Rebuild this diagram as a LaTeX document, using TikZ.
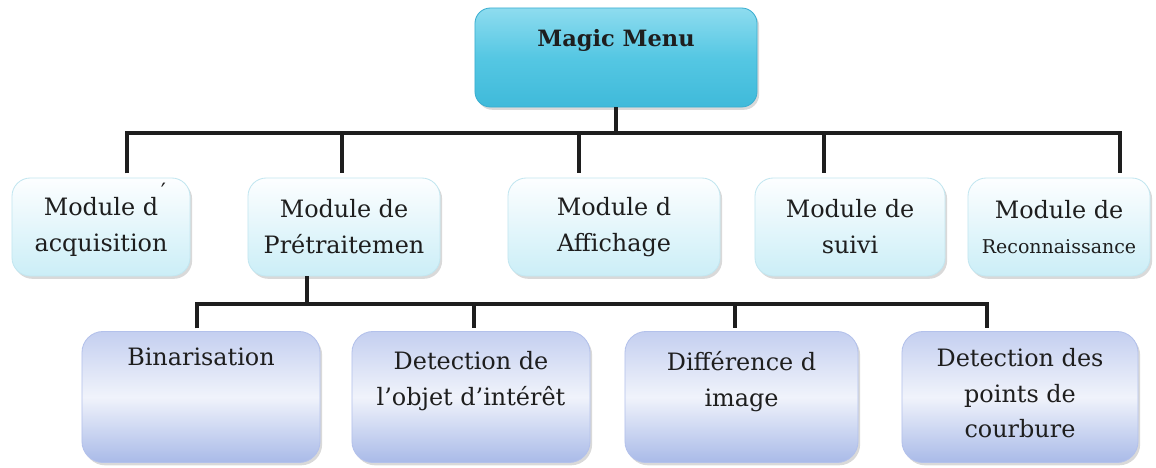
\documentclass[tikz,border=0pt]{standalone}
\usepackage{fontspec}
\setmainfont{DejaVu Serif}
\usetikzlibrary{shadows}
\definecolor{ink}{HTML}{1E1E1E}
\definecolor{cyantop}{HTML}{8EDCEF}
\definecolor{cyanmid}{HTML}{55C7E3}
\definecolor{cyanbot}{HTML}{3FBADA}
\definecolor{cyanedge}{HTML}{3AAED0}
\definecolor{paletop}{HTML}{FDFEFF}
\definecolor{palebot}{HTML}{CBEEF7}
\definecolor{paleedge}{HTML}{C2E6F0}
\definecolor{lavtop}{HTML}{C4CFF0}
\definecolor{lavmid}{HTML}{F0F3FB}
\definecolor{lavbot}{HTML}{A9BAE8}
\definecolor{lavedge}{HTML}{B3C1EB}
\tikzset{
  softshadow/.style={drop shadow={opacity=0.30,shadow xshift=1.5pt,shadow yshift=-2pt}},
  topbox/.style={draw=cyanedge,line width=0.6pt,rounded corners=11pt,top color=cyantop,bottom color=cyanbot,middle color=cyanmid,softshadow},
  modbox/.style={draw=paleedge,line width=0.6pt,rounded corners=13pt,top color=paletop,bottom color=palebot,softshadow,
    minimum height=2.45cm,align=center,text=ink,font=\fontsize{17}{25.5}\selectfont},
  subbox/.style={draw=lavedge,line width=0.6pt,rounded corners=15pt,top color=lavtop,bottom color=lavbot,middle color=lavmid,softshadow,
    minimum height=3.275cm},
  key/.style={text=ink,font=\bfseries\fontsize{16}{20}\selectfont,align=center},
  label/.style={text=ink,font=\fontsize{17}{25.5}\selectfont,align=center,anchor=north},
  conn/.style={draw=ink,line width=2.9pt}
}

\begin{document}
\begin{tikzpicture}[x=0.025cm,y=-0.025cm]
  \path[use as bounding box] (0,0) rectangle (1156,467);

  % Root of the menu.
  \node[topbox,minimum width=7.05cm,minimum height=2.475cm] (menu) at (616,57.5) {};
  \node[key] (menu-t) at (616,40) {Magic Menu};

  % First level: the five modules.
  \node[modbox,minimum width=4.45cm] (acq) at (101,227)
    {Module d\rlap{\kern2pt\smash{\raisebox{1.3ex}{\fontsize{16}{16}\selectfont ′}}}\\acquisition};
  \node[modbox,minimum width=4.8cm] (pre) at (344,227) {Module de\\Prétraitemen};
  \node[modbox,minimum width=5.3cm] (aff) at (614,227) {Module d\\Affichage};
  \node[modbox,minimum width=4.75cm] (suivi) at (850,227) {Module de\\suivi};
  \node[modbox,minimum width=4.55cm] (recon) at (1059,227)
    {Module de\\{\fontsize{13.5}{20}\selectfont Reconnaissance}};

  % Second level: steps of the preprocessing.
  \node[subbox,minimum width=5.95cm] (bin) at (201,397) {};
  \node[subbox,minimum width=5.95cm] (objet) at (471,397) {};
  \node[subbox,minimum width=5.825cm] (diff) at (741.5,397) {};
  \node[subbox,minimum width=5.9cm] (courb) at (1020,397) {};
  \node[label] (bin-t) at ([yshift=-0.3cm]bin.north) {Binarisation};
  \node[label] (objet-t) at ([yshift=-0.38cm]objet.north) {Detection de\\l’objet d’intérêt};
  \node[label] (diff-t) at ([yshift=-0.38cm]diff.north) {Différence d\\image};
  \node[label] (courb-t) at ([yshift=-0.3cm]courb.north) {Detection des\\points de\\courbure};

  % Upper bus.
  \coordinate (t1) at (127,133);
  \coordinate (t2) at (342,133);
  \coordinate (t3) at (579,133);
  \coordinate (t4) at (824,133);
  \coordinate (t5) at (1120,133);
  \draw[conn] (menu.south) -- (menu.south |- t1);
  \draw[conn] ([yshift=3pt]t1 |- acq.north) -- (t1) -- (t5) -- ([yshift=3pt]t5 |- recon.north);
  \draw[conn] (t2) -- ([yshift=3pt]t2 |- pre.north);
  \draw[conn] (t3) -- ([yshift=3pt]t3 |- aff.north);
  \draw[conn] (t4) -- ([yshift=3pt]t4 |- suivi.north);

  % Lower bus.
  \coordinate (s1) at (197,304);
  \coordinate (s2) at (474,304);
  \coordinate (s3) at (735,304);
  \coordinate (s4) at (987,304);
  \draw[conn] ([xshift=-26pt]pre.south) -- ([xshift=-26pt]pre.south |- s1);
  \draw[conn] ([yshift=2pt]s1 |- bin.north) -- (s1) -- (s4) -- ([yshift=2pt]s4 |- courb.north);
  \draw[conn] (s2) -- ([yshift=2pt]s2 |- objet.north);
  \draw[conn] (s3) -- ([yshift=2pt]s3 |- diff.north);
\end{tikzpicture}
\end{document}
